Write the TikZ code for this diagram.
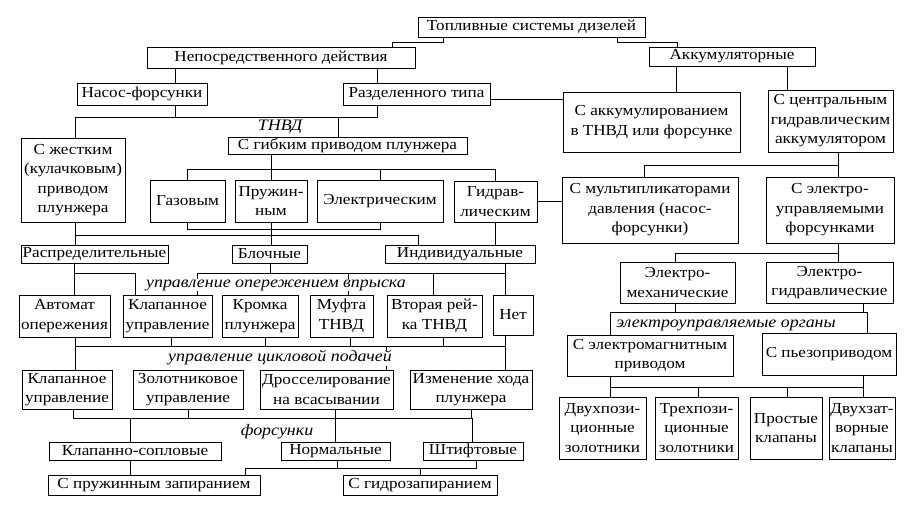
\documentclass[tikz,border=0pt]{standalone}
\usepackage{fontspec}
\setmainfont{Liberation Serif}[FakeStretch=1.12]
\begin{document}
\begin{tikzpicture}[x=1pt,y=-1pt,
  bx/.style={draw, line width=0.9pt, align=center, inner sep=1pt, font={\fontsize{15.3}{19.5}\selectfont}},
  lbl/.style={font={\fontsize{16}{18}\selectfont\itshape}, fill=white, inner sep=0.5pt},
  ln/.style={draw, line width=0.7pt}]
\useasboundingbox (0,0) rectangle (905,509);
% boxes
\node[bx, minimum width=227pt, minimum height=20pt] (top) at (531.5,27) {Топливные системы дизелей};
\node[bx, minimum width=268pt, minimum height=21pt] (nep) at (281,57.5) {Непосредственного действия};
\node[bx, minimum width=166pt, minimum height=19pt] (akk) at (732,56.5) {Аккумуляторные};
\node[bx, minimum width=130pt, minimum height=22pt] (nas) at (142,94) {Насос-форсунки};
\node[bx, minimum width=147pt, minimum height=22pt] (raz) at (416.5,94) {Разделенного типа};
\node[bx, minimum width=177pt, minimum height=60pt] (sakk) at (651.5,122) {С аккумулированием\\в ТНВД или форсунке};
\node[bx, minimum width=125pt, minimum height=62pt] (scen) at (830.5,121) {С центральным\\гидравлическим\\аккумулятором};
\node[bx, minimum width=104pt, minimum height=84pt] (zhes) at (73,180) {С жестким\\(кулачковым)\\приводом\\плунжера};
\node[bx, minimum width=239pt, minimum height=16pt] (gib) at (347.5,146) {С гибким приводом плунжера};
\node[bx, minimum width=75pt, minimum height=42pt] (gaz) at (187.5,201) {Газовым};
\node[bx, minimum width=72pt, minimum height=42pt] (pruz) at (271,201) {Пружин-\\ным};
\node[bx, minimum width=126pt, minimum height=42pt] (elek) at (380,201) {Электрическим};
\node[bx, minimum width=83pt, minimum height=41pt] (gidr) at (495.5,201.5) {Гидрав-\\лическим};
\node[bx, minimum width=176pt, minimum height=66pt] (mult) at (650,210) {С мультипликаторами\\давления (насос-\\форсунки)};
\node[bx, minimum width=128pt, minimum height=66pt] (elup) at (830,210) {С электро-\\управляемыми\\форсунками};
\node[bx, minimum width=147pt, minimum height=18pt] (rasp) at (94.5,254) {Распределительные};
\node[bx, minimum width=75pt, minimum height=18pt] (bloc) at (269.5,254) {Блочные};
\node[bx, minimum width=150pt, minimum height=18pt] (indi) at (460,254) {Индивидуальные};
\node[bx, minimum width=115pt, minimum height=41pt] (elmeh) at (677.5,282.5) {Электро-\\механические};
\node[bx, minimum width=127pt, minimum height=41pt] (elgid) at (829.5,282.5) {Электро-\\гидравлические};
\node[bx, minimum width=91pt, minimum height=42pt] (avto) at (64.5,316) {Автомат\\опережения};
\node[bx, minimum width=89pt, minimum height=42pt] (klap1) at (167.5,316) {Клапанное\\управление};
\node[bx, minimum width=76pt, minimum height=42pt] (krom) at (260,316) {Кромка\\плунжера};
\node[bx, minimum width=63pt, minimum height=42pt] (muft) at (341.5,316) {Муфта\\ТНВД};
\node[bx, minimum width=95pt, minimum height=42pt] (vtor) at (434.5,316) {Вторая рей-\\ка ТНВД};
\node[bx, minimum width=40pt, minimum height=40pt] (net) at (513,315) {Нет};
\node[bx, minimum width=166pt, minimum height=41pt] (selm) at (650,355.5) {С электромагнитным\\приводом};
\node[bx, minimum width=134pt, minimum height=42pt] (pezo) at (829,354) {С пьезоприводом};
\node[bx, minimum width=90pt, minimum height=39pt] (klap2) at (67,389.5) {Клапанное\\управление};
\node[bx, minimum width=110pt, minimum height=39pt] (zolo) at (188,389.5) {Золотниковое\\управление};
\node[bx, minimum width=133pt, minimum height=39pt] (dros) at (326.5,389.5) {Дросселирование\\на всасывании};
\node[bx, minimum width=122pt, minimum height=39pt] (izme) at (471,389.5) {Изменение хода\\плунжера};
\node[bx, minimum width=87pt, minimum height=62pt] (dvuh1) at (602.5,428) {Двухпози-\\ционные\\золотники};
\node[bx, minimum width=83pt, minimum height=62pt] (treh) at (696.5,428) {Трехпози-\\ционные\\золотники};
\node[bx, minimum width=72pt, minimum height=62pt] (pros) at (786,428) {Простые\\клапаны};
\node[bx, minimum width=66pt, minimum height=62pt] (dvuh2) at (862,428) {Двухзат-\\ворные\\клапаны};
\node[bx, minimum width=172pt, minimum height=18pt] (ksop) at (135,451) {Клапанно-сопловые};
\node[bx, minimum width=109pt, minimum height=18pt] (norm) at (335.5,451) {Нормальные};
\node[bx, minimum width=100pt, minimum height=18pt] (shti) at (473,451) {Штифтовые};
\node[bx, minimum width=212pt, minimum height=20pt] (sprz) at (154,485) {С пружинным запиранием};
\node[bx, minimum width=154pt, minimum height=20pt] (sgid) at (420,485) {С гидрозапиранием};
% connectors
\draw[ln] (top.south -| 443,0) |- (392,42) -- (nep.north -| 392,0);
\draw[ln] (top.south -| 617,0) |- (677,42) -- (akk.north -| 677,0);
\draw[ln] (nep.south -| 175,0) -- (nas.north -| 175,0);
\draw[ln] (nep.south -| 377,0) -- (raz.north -| 377,0);
\draw[ln] (raz.east |- 0,99) -- (sakk.west |- 0,99);
\draw[ln] (akk.south -| 676,0) -- (sakk.north -| 676,0);
\draw[ln] (akk.south -| 787,0) -- (scen.north -| 787,0);
\draw[ln] (nas.south -| 175,0) -- (175,117);
\draw[ln] (raz.south -| 377,0) |- (75,117) -- (zhes.north -| 75,0);
\draw[ln] (338,117) -- (gib.north -| 338,0);
\draw[ln] (gib.south -| pruz.north) -- (pruz.north);
\draw[ln] (gaz.north) |- (gidr.north |- 0,169) -- (gidr.north);
\draw[ln] (elek.north |- 0,169) -- (elek.north);
\draw[ln] (gaz.south) |- (elek.south |- 0,229) -- (elek.south);
\draw[ln] (pruz.south) -- (bloc.north -| pruz.south);
\draw[ln] (zhes.south -| 75,0) -- (rasp.north -| 75,0);
\draw[ln] (75,235) -| (indi.north -| 418,0);
\draw[ln] (gidr.south) -- (indi.north -| gidr.south);
\draw[ln] (gidr.east) -- (mult.west |- gidr.east);
\draw[ln] (scen.south -| 838,0) -- (elup.north -| 838,0);
\draw[ln] (838,165) -| (mult.north -| 644,0);
% to row 4
\draw[ln] (rasp.south -| 74,0) -- (avto.north -| 74,0);
\draw[ln] (74,273) -| (klap1.north -| 135,0);
\draw[ln] (bloc.south -| 270,0) -- (270,273);
\draw[ln] (indi.south -| 505,0) -- (net.north -| 505,0);
\draw[ln] (197,273) -- (505,273);
\draw[ln] (197,273) -- (klap1.north -| 197,0);
\draw[ln] (348,273) -- (muft.north -| 348,0);
\draw[ln] (433,273) -- (vtor.north -| 433,0);
% cycle feed bar
\draw[ln] (avto.south -| 75,0) -- (klap2.north -| 75,0);
\draw[ln] (75,346) -- (505,346);
\draw[ln] (klap1.south -| 171,0) -- (171,346);
\draw[ln] (krom.south -| 265,0) -- (265,346);
\draw[ln] (muft.south -| 350,0) -- (350,346);
\draw[ln] (vtor.south -| 443,0) -- (443,346);
\draw[ln] (net.south -| 505,0) -- (izme.north -| 505,0);
\draw[ln] (386,346) -- (dros.north -| 386,0);
% nozzles bar
\draw[ln] (klap2.south -| 73,0) |- (izme.south |- 0,418) -- (izme.south);
\draw[ln] (zolo.south) -- (zolo.south |- 0,418);
\draw[ln] (dros.south -| 335,0) -- (norm.north -| 335,0);
\draw[ln] (130,418) -- (ksop.north -| 130,0);
\draw[ln] (472,418) -- (shti.north -| 472,0);
% lock bar
\draw[ln] (ksop.south -| 130,0) -- (sprz.north -| 130,0);
\draw[ln] (norm.south -| 337,0) -- (337,468);
\draw[ln] (shti.south -| 476,0) |- (245,468) -- (sprz.north -| 245,0);
\draw[ln] (420,468) -- (sgid.north -| 420,0);
% right lower
\draw[ln] (elup.south -| 838,0) -- (elgid.north -| 838,0);
\draw[ln] (838,253) -| (elmeh.north -| 675,0);
\draw[ln] (elmeh.south -| 675,0) -- (675,312);
\draw[ln] (elgid.south -| 863,0) -- (863,312);
\draw[ln] (selm.north -| 610,0) |- (867,312) -- (pezo.north -| 867,0);
\draw[ln] (selm.south -| 610,0) -- (dvuh1.north -| 610,0);
\draw[ln] (pezo.south -| 863,0) -- (dvuh2.north -| 863,0);
\draw[ln] (610,387) -- (863,387);
\draw[ln] (698,387) -- (treh.north -| 698,0);
\draw[ln] (787,387) -- (pros.north -| 787,0);
% labels
\node[lbl] (l1) at (280,127) {ТНВД};
\node[lbl] (l2) at (276,285) {управление опережением впрыска};
\node[lbl] (l3) at (280,358) {управление цикловой подачей};
\node[lbl] (l4) at (277,432) {форсунки};
\node[lbl] (l5) at (726,325) {электроуправляемые органы};
\end{tikzpicture}
\end{document}
